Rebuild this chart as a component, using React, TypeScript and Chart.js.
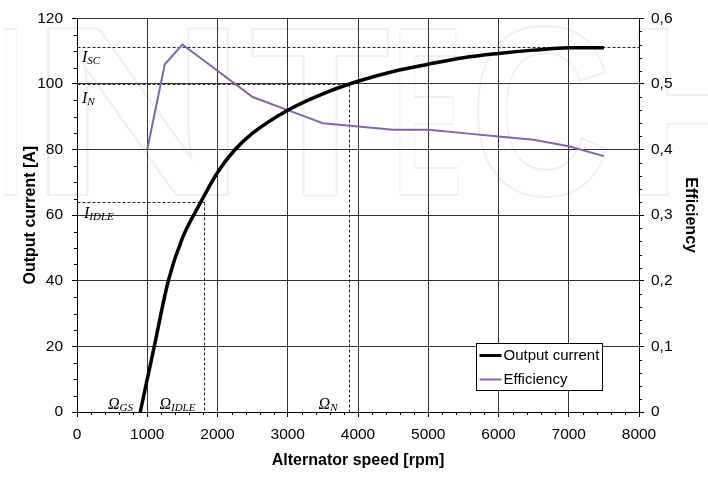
import React, { useEffect, useRef } from 'react';
import { Chart, registerables } from 'chart.js';

Chart.register(...registerables);

// ---- data ----
const speedCurrent = [900, 1000, 1100, 1300, 1500, 1750, 2000, 2250, 2500, 3000, 3500, 4000, 4500, 5000, 5500, 6000, 6500, 7000, 7500];
const outputCurrent = [0, 10, 20, 40, 53, 63.5, 73, 80, 85, 92, 97, 100.8, 103.8, 106, 108, 109.3, 110.3, 111, 111];

const speedEff = [1000, 1250, 1500, 2000, 2500, 3000, 3500, 4000, 4500, 5000, 5500, 6000, 6500, 7000, 7500];
const efficiency = [0.4, 0.53, 0.56, 0.52, 0.48, 0.46, 0.44, 0.435, 0.43, 0.43, 0.425, 0.42, 0.415, 0.405, 0.39];

const xTickLabels = ['0', '1000', '2000', '3000', '4000', '5000', '6000', '7000', '8000'];
const yTickLabels = ['0', '20', '40', '60', '80', '100', '120'];
const effTickLabels = ['0', '0,1', '0,2', '0,3', '0,4', '0,5', '0,6'];

// reference values
const iSC = 111.3;
const iN = 100;
const iIdle = 64;
const omegaGS = 897;
const omegaIdle = 1814;
const omegaN = 3865;

const seriesLabels = ['Output current', 'Efficiency'];
const xTitle = 'Alternator speed [rpm]';
const yTitle = 'Output current [A]';
const y1Title = 'Efficiency';

const SANS = '"Liberation Sans", Arial, sans-serif';
const SERIF = '"Liberation Serif", "Times New Roman", serif';
const PURPLE = '#7f66ad';

function drawSubLabel(ctx: CanvasRenderingContext2D, main: string, sub: string, x: number, y: number, alignRight: boolean) {
  ctx.font = `italic 16px ${SERIF}`;
  const w1 = ctx.measureText(main).width;
  ctx.font = `italic 11px ${SERIF}`;
  const w2 = ctx.measureText(sub).width;
  const sx = alignRight ? x - w1 - w2 : x;
  ctx.textAlign = 'left';
  ctx.textBaseline = 'alphabetic';
  ctx.fillStyle = '#000';
  ctx.font = `italic 16px ${SERIF}`;
  ctx.fillText(main, sx, y);
  ctx.font = `italic 11px ${SERIF}`;
  ctx.fillText(sub, sx + w1, y + 2);
}

const watermark = {
  id: 'watermark',
  beforeDraw(chart: any) {
    const ctx = chart.ctx as CanvasRenderingContext2D;
    ctx.save();
    ctx.fillStyle = '#fff';
    ctx.fillRect(0, 0, chart.width, chart.height);
    const letters: [string, number, number][] = [
      ['I', 0, 22], ['N', 28, 248], ['T', 250, 390], ['E', 393, 462], ['C', 470, 612], ['H', 625, 770],
    ];
    ctx.font = `bold 242px ${SANS}`;
    ctx.strokeStyle = '#f0f0f0';
    ctx.lineWidth = 2;
    ctx.textBaseline = 'alphabetic';
    ctx.textAlign = 'left';
    for (const [ch, x0, x1] of letters) {
      const w = ctx.measureText(ch).width;
      ctx.save();
      ctx.translate(x0, 195);
      ctx.scale((x1 - x0) / w, 1);
      ctx.strokeText(ch, 0, 0);
      ctx.restore();
    }
    ctx.restore();
  },
};

const refLines = {
  id: 'refLines',
  beforeDatasetsDraw(chart: any) {
    const ctx = chart.ctx as CanvasRenderingContext2D;
    const { x, y } = chart.scales;
    const px = (v: number) => Math.round(x.getPixelForValue(v)) + 0.5;
    const py = (v: number) => Math.round(y.getPixelForValue(v)) + 0.5;
    ctx.save();
    ctx.strokeStyle = '#222';
    ctx.lineWidth = 1;
    ctx.setLineDash([3, 2]);
    const seg = (x1: number, y1: number, x2: number, y2: number) => {
      ctx.beginPath();
      ctx.moveTo(x1, y1);
      ctx.lineTo(x2, y2);
      ctx.stroke();
    };
    seg(px(0), py(iSC), px(8000), py(iSC));
    seg(px(0), py(iN), px(omegaN), py(iN));
    seg(px(omegaN), py(iN), px(omegaN), py(0));
    seg(px(0), py(iIdle), px(omegaIdle), py(iIdle));
    seg(px(omegaIdle), py(iIdle), px(omegaIdle), py(0));
    ctx.setLineDash([]);
    const left = chart.chartArea.left;
    drawSubLabel(ctx, 'I', 'SC', left + 5, y.getPixelForValue(iSC) + 15, false);
    drawSubLabel(ctx, 'I', 'N', left + 5, y.getPixelForValue(iN) + 19, false);
    drawSubLabel(ctx, 'I', 'IDLE', left + 7, y.getPixelForValue(iIdle) + 16, false);
    const base = y.getPixelForValue(0) - 3;
    drawSubLabel(ctx, 'Ω', 'GS', x.getPixelForValue(omegaGS) - 7, base, true);
    drawSubLabel(ctx, 'Ω', 'IDLE', x.getPixelForValue(omegaIdle) - 9, base, true);
    drawSubLabel(ctx, 'Ω', 'N', x.getPixelForValue(omegaN) - 11, base, true);
    ctx.restore();
  },
};

const minorTicks = {
  id: 'minorTicks',
  afterDraw(chart: any) {
    const ctx = chart.ctx as CanvasRenderingContext2D;
    const { x, y, y1 } = chart.scales;
    ctx.save();
    ctx.strokeStyle = '#000';
    ctx.lineWidth = 1;
    const line = (a: number, b: number, c: number, d: number) => {
      ctx.beginPath();
      ctx.moveTo(a, b);
      ctx.lineTo(c, d);
      ctx.stroke();
    };
    for (let v = 0; v <= 8000; v += 200) {
      if (v % 1000 === 0) continue;
      const p = Math.round(x.getPixelForValue(v)) + 0.5;
      line(p, x.top, p, x.top + 3);
    }
    for (let v = 0; v <= 120; v += 5) {
      if (v % 20 === 0) continue;
      const p = Math.round(y.getPixelForValue(v)) + 0.5;
      line(y.right - 3, p, y.right, p);
    }
    for (let i = 0; i <= 30; i++) {
      if (i % 5 === 0) continue;
      const p = Math.round(y1.getPixelForValue(i * 0.02)) + 0.5;
      line(y1.left, p, y1.left + 3, p);
    }
    ctx.restore();
  },
};

const boxLegend = {
  id: 'boxLegend',
  afterDraw(chart: any) {
    const ctx = chart.ctx as CanvasRenderingContext2D;
    const bx = 476.5, by = 343.5, bw = 126, bh = 47;
    ctx.save();
    ctx.fillStyle = '#fff';
    ctx.fillRect(bx, by, bw, bh);
    ctx.strokeStyle = '#000';
    ctx.lineWidth = 1;
    ctx.strokeRect(bx, by, bw, bh);
    const ds = chart.data.datasets;
    ds.forEach((d: any, i: number) => {
      const cy = by + 12 + i * 24;
      ctx.strokeStyle = d.borderColor;
      ctx.lineWidth = i === 0 ? 3 : 2;
      ctx.beginPath();
      ctx.moveTo(bx + 3, cy);
      ctx.lineTo(bx + 25, cy);
      ctx.stroke();
      ctx.fillStyle = '#000';
      ctx.font = `15px ${SANS}`;
      ctx.textBaseline = 'middle';
      ctx.textAlign = 'left';
      ctx.fillText(d.label, bx + 27, cy);
    });
    ctx.restore();
  },
};

export default function App() {
  const ref = useRef<HTMLCanvasElement>(null);
  useEffect(() => {
    if (!ref.current) return;
    const tickFont = { family: SANS, size: 15.5 };
    const titleFont = { family: SANS, size: 16, weight: 'bold' as const };
    const chart = new Chart(ref.current, {
      type: 'line',
      data: {
        datasets: [
          {
            label: seriesLabels[0],
            data: speedCurrent.map((s, i) => ({ x: s, y: outputCurrent[i] })),
            borderColor: '#000',
            borderWidth: 3.5,
            cubicInterpolationMode: 'monotone',
            pointRadius: 0,
            yAxisID: 'y',
            fill: false,
          },
          {
            label: seriesLabels[1],
            data: speedEff.map((s, i) => ({ x: s, y: efficiency[i] })),
            borderColor: PURPLE,
            borderWidth: 2,
            tension: 0,
            pointRadius: 0,
            yAxisID: 'y1',
            fill: false,
          },
        ],
      },
      options: {
        responsive: false,
        animation: false,
        devicePixelRatio: 1,
        layout: { padding: { top: 18, left: 0, right: 0, bottom: 0 } },
        plugins: { legend: { display: false }, tooltip: { enabled: false } },
        scales: {
          x: {
            type: 'linear',
            position: 'bottom',
            min: 0,
            max: 8000,
            ticks: {
              stepSize: 1000, color: '#000', font: tickFont, padding: 8, maxRotation: 0, autoSkip: false,
              callback: (_v: any, i: number) => xTickLabels[i],
            },
            grid: { color: '#333', lineWidth: 1, tickLength: 5, tickColor: '#000' },
            border: { color: '#000', width: 1 },
            title: { display: true, text: xTitle, color: '#000', font: titleFont, padding: { top: 0, bottom: 12.4 } },
            afterFit: (s: any) => { s.height = 71; },
          },
          y: {
            position: 'left',
            min: 0,
            max: 120,
            ticks: {
              stepSize: 20, color: '#000', font: tickFont, padding: 9,
              callback: (_v: any, i: number) => yTickLabels[i],
            },
            grid: { color: '#333', lineWidth: 1, tickLength: 5, tickColor: '#000' },
            border: { color: '#000', width: 1 },
            title: { display: true, text: yTitle, color: '#000', font: titleFont, padding: { top: 21.4, bottom: 0 } },
            afterFit: (s: any) => { s.width = 77; },
          },
          y1: {
            position: 'right',
            min: 0,
            max: 0.6,
            ticks: {
              stepSize: 0.1,
              color: '#000',
              font: tickFont,
              padding: 7,
              callback: (_v: any, i: number) => effTickLabels[i],
            },
            grid: { drawOnChartArea: false, tickLength: 5, tickColor: '#000' },
            border: { color: '#000', width: 1 },
            title: { display: true, text: y1Title, color: '#000', font: titleFont, padding: { top: 8.4, bottom: 0 } },
            afterFit: (s: any) => { s.width = 69; },
          },
        },
      } as any,
      plugins: [watermark, refLines, minorTicks, boxLegend],
    });
    return () => chart.destroy();
  }, []);
  return (
    <div style={{ position: 'absolute', left: 0, top: 0, width: 708, height: 483, background: '#fff' }}>
      <canvas ref={ref} width={708} height={483} />
    </div>
  );
}
